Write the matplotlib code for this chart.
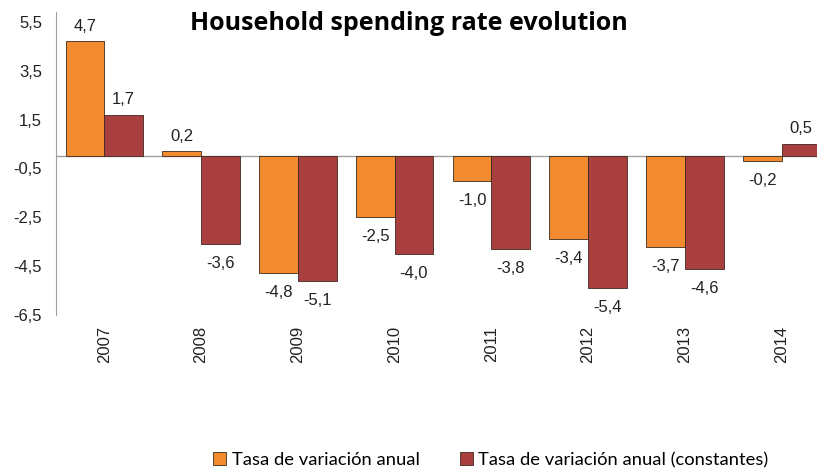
import matplotlib.pyplot as plt
import numpy as np

years = ['2007', '2008', '2009', '2010', '2011', '2012', '2013', '2014']
tasa_anual = [4.7, 0.2, -4.8, -2.5, -1.0, -3.4, -3.7, -0.2]
tasa_constantes = [1.7, -3.6, -5.1, -4.0, -3.8, -5.4, -4.6, 0.5]
yticks = [5.5, 3.5, 1.5, -0.5, -2.5, -4.5, -6.5]

c_orange = '#F28B30'
c_red = '#AA3F3F'

fig = plt.figure(figsize=(8.17, 4.72), dpi=100)
# axes runs slightly past the right edge like the original
ax = fig.add_axes([56/817, 1-315/472, 774/817, (315-12)/472])

x = np.arange(len(years))
w = 0.4
b1 = ax.bar(x - w/2, tasa_anual, w, color=c_orange, edgecolor='#3a2a20', linewidth=0.6, label='Tasa de variación anual')
b2 = ax.bar(x + w/2, tasa_constantes, w, color=c_red, edgecolor='#3a2a20', linewidth=0.6, label='Tasa de variación anual (constantes)')

for bars, vals in [(b1, tasa_anual), (b2, tasa_constantes)]:
    for rect, v in zip(bars, vals):
        cx = rect.get_x() + rect.get_width()/2
        off = 11 if v >= 0 else -14
        ax.annotate(f'{v:.1f}'.replace('.', ','), (cx, v), xytext=(0, off),
                    textcoords='offset points', ha='center', va='center',
                    fontsize=12, family='Liberation Sans', color='#222222')

ax.axhline(0, color='#a0a0a0', lw=1, zorder=0)
ax.set_xlim(-0.5, len(years) - 0.5)
ax.set_ylim(-6.5, 5.9)
ax.set_yticks(yticks)
ax.set_yticklabels([f'{t:.1f}'.replace('.', ',') for t in yticks], family='Liberation Sans', fontsize=12, color='#222222')
ax.set_xticks(x)
ax.set_xticklabels(years, rotation=90, family='Liberation Sans', fontsize=12, color='#222222')
ax.tick_params(axis='y', length=0, pad=10)
ax.tick_params(axis='x', length=0, pad=8)
for s in ['top', 'right', 'bottom']:
    ax.spines[s].set_visible(False)
ax.spines['left'].set_color('#a0a0a0')

fig.text(409/817, 1-23/472, 'Household spending rate evolution', ha='center', va='center',
         fontsize=18, fontweight='bold', family='Open Sans')

fig.legend(loc='center', bbox_to_anchor=(491/817, 1-460/472), ncol=2, frameon=False,
           prop={'family': 'Lato', 'size': 13.2}, handlelength=0.7, handleheight=0.7,
           handletextpad=0.3, columnspacing=2.2)

fig.savefig('out.png', dpi=100)
